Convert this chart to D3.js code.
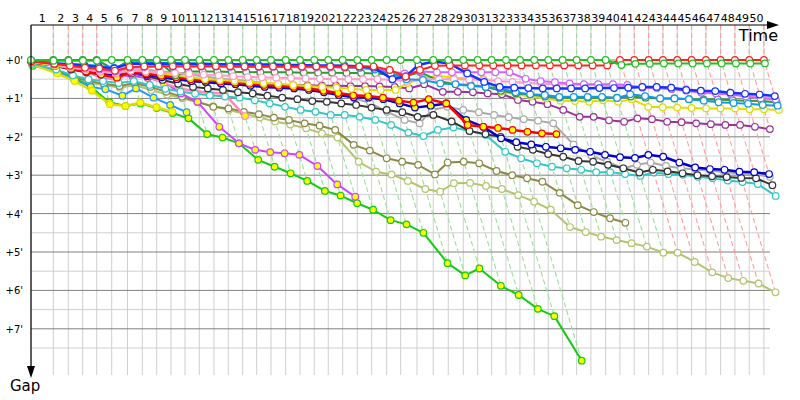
<!DOCTYPE html>
<html>
<head>
<meta charset="utf-8">
<script src="https://cdn.jsdelivr.net/npm/d3@7"></script>
<style>
  body { margin: 0; background: #fff; }
  svg { display: block; font-family: 'DejaVu Sans', sans-serif; }
</style>
</head>
<body>
<script>
const width = 800;
const height = 400;

// leader lap times in seconds, laps 1..50
const leaderLapTimes = [
  116.3, 78.3, 75.1, 73.0, 78.3, 82.4, 77.2, 75.1, 74.6, 73.0,
  74.6, 76.7, 74.6, 75.1, 73.0, 74.6, 76.7, 74.6, 74.6, 73.0,
  75.1, 76.2, 75.1, 78.3, 73.0, 85.0, 85.0, 78.3, 78.3, 75.1,
  73.0, 74.6, 73.0, 74.6, 73.0, 75.1, 73.0, 74.6, 76.7, 74.6,
  74.6, 75.1, 74.6, 74.6, 75.1, 74.6, 76.7, 74.6, 74.6, 76.7
];

// gap to the leader in minutes, index = lap (0 = start)
const gapGreen = [0, 0.02, 0.02, 0.02, 0.02, 0, 0, 0, 0, 0,
  0, 0, 0, 0, 0, 0, 0, 0, 0, 0, 0, 0, 0, 0, 0, 0, 0, 0, 0, 0,
  0, 0, 0, 0, 0, 0, 0, 0, 0, 0,
  0.13, 0.1, 0.1, 0.09, 0.09, 0.09, 0.09, 0.09, 0.09, 0.09, 0.09];
const gapRed = [0.03, 0.1, 0.15, 0.2, 0.22, 0.28, 0.18, 0.17, 0.16, 0.16,
  0.16, 0.16, 0.16, 0.16, 0.17, 0.17, 0.17, 0.17, 0.17, 0.17,
  0.17, 0.18, 0.17, 0.17, 0.26, 0.43, 0.26, 0.15, 0.14, 0.14,
  0.14, 0.14, 0.14, 0.14, 0.14, 0.14, 0.14, 0.14, 0.14, 0.14,
  0, 0, 0, 0, 0, 0, 0, 0, 0, 0, 0];
const gapRedThick = [0.05, 0.15, 0.22, 0.3, 0.38, 0.46, 0.3, 0.35, 0.41, 0.45,
  0.5, 0.53, 0.56, 0.59, 0.62, 0.65, 0.67, 0.7, 0.74, 0.8,
  0.86, 0.92, 0.94, 0.98, 1.06, 1.11, 1.02, 1.13, 1.69, 1.74,
  1.77, 1.82, 1.87, 1.91, 1.93];
const gapNavy = [0.05, 0.12, 0.2, 0.28, 0.35, 0.42, 0.3, 0.38, 0.45, 0.5,
  0.55, 0.57, 0.61, 0.63, 0.67, 0.7, 0.72, 0.74, 0.78, 0.84,
  0.91, 0.97, 0.98, 1.02, 1.13, 1.24, 1.19, 1.13, 1.56, 1.74,
  2.04, 2.14, 2.2, 2.26, 2.3, 2.34, 2.39, 2.47, 2.53, 2.55,
  2.47, 2.52, 2.67, 2.8, 2.84, 2.86, 2.91, 2.92, 2.97];
const gapBlue = [0.02, 0.1, 0.12, 0.15, 0.18, 0.22, 0.1, 0.1, 0.1, 0.1,
  0.1, 0.1, 0.11, 0.11, 0.12, 0.12, 0.12, 0.13, 0.13, 0.14,
  0.14, 0.15, 0.16, 0.2, 0.5, 0.43, 0.13, 0.04, 0.09, 0.35,
  0.57, 0.7, 0.72, 0.73, 0.74, 0.74, 0.74, 0.74, 0.73, 0.73,
  0.72, 0.7, 0.7, 0.72, 0.78, 0.8, 0.81, 0.85, 0.88, 0.9, 0.94];
const gapBlack = [0.05, 0.15, 0.25, 0.32, 0.38, 0.42, 0.35, 0.42, 0.52, 0.62,
  0.7, 0.74, 0.78, 0.84, 0.87, 0.93, 0.98, 1.02, 1.07, 1.09,
  1.13, 1.17, 1.24, 1.3, 1.36, 1.48, 1.43, 1.6, 1.85, 1.93,
  2.0, 2.26, 2.34, 2.45, 2.52, 2.63, 2.65, 2.73, 2.82, 2.93,
  2.86, 2.9, 2.95, 3.0, 3.03, 3.05, 3.07, 3.08, 3.26];
const gapGray = [0.05, 0.15, 0.2, 0.25, 0.3, 0.32, 0.25, 0.25, 0.29, 0.33,
  0.38, 0.43, 0.48, 0.52, 0.55, 0.59, 0.63, 0.68, 0.72, 0.78,
  0.87, 1.0, 1.12, 1.35, 1.56, 1.65, 1.3, 1.22, 1.3, 1.36,
  1.43, 1.49, 1.54, 1.58, 1.65, 2.2, 2.49, 2.65, 2.82, 2.73,
  2.67, 2.76, 2.82, 2.85, 2.88, 2.93, 2.95, 2.98, 3.04];
const gapCyan = [0.1, 0.25, 0.4, 0.5, 0.55, 0.6, 0.55, 0.65, 0.75, 0.82,
  0.88, 0.92, 0.95, 0.98, 1.05, 1.13, 1.22, 1.3, 1.35, 1.43,
  1.43, 1.48, 1.56, 1.69, 1.89, 1.98, 1.82, 1.76, 1.85, 1.95,
  2.39, 2.56, 2.69, 2.78, 2.82, 2.86, 2.92, 2.92, 2.97, 3.02,
  2.93, 2.97, 2.99, 3.04, 3.08, 3.14, 3.18, 3.23, 3.54];
const gapPurple = [0.05, 0.15, 0.22, 0.3, 0.35, 0.4, 0.35, 0.4, 0.45, 0.5,
  0.55, 0.58, 0.6, 0.62, 0.64, 0.65, 0.65, 0.66, 0.66, 0.67,
  0.67, 0.68, 0.68, 0.69, 0.7, 0.74, 0.63, 0.83, 0.83, 0.84,
  0.87, 0.89, 1.04, 1.09, 1.15, 1.3, 1.48, 1.48, 1.57, 1.61,
  1.52, 1.54, 1.61, 1.62, 1.65, 1.67, 1.69, 1.69, 1.74, 1.8];
const gapViolet = [0.03, 0.1, 0.15, 0.2, 0.25, 0.3, 0.2, 0.18, 0.17, 0.17,
  0.17, 0.17, 0.17, 0.18, 0.18, 0.18, 0.18, 0.18, 0.19, 0.19,
  0.19, 0.2, 0.2, 0.22, 0.3, 0.35, 0.3, 0.32, 0.32, 0.32,
  0.32, 0.32, 0.32, 0.49, 0.55, 0.58, 0.61, 0.63, 0.63, 0.63,
  0.65, 0.72, 0.73, 0.76, 0.8, 0.85, 0.87, 0.9, 0.95, 1.0, 1.03];
const gapPink = [0.04, 0.12, 0.18, 0.24, 0.3, 0.35, 0.28, 0.3, 0.32, 0.34,
  0.36, 0.38, 0.4, 0.42, 0.44, 0.45, 0.46, 0.47, 0.48, 0.49,
  0.5, 0.5, 0.5, 0.5, 0.52, 0.55, 0.5, 0.5, 0.5, 0.51,
  0.52, 0.55, 0.57, 0.6, 0.62, 0.63, 0.64, 0.65, 0.66, 0.67,
  0.68, 0.7, 0.7, 0.72, 0.75, 0.8, 0.84, 0.88, 0.92, 0.96, 1.0];
const gapYellow = [0.05, 0.15, 0.2, 0.25, 0.3, 0.35, 0.25, 0.3, 0.35, 0.4,
  0.45, 0.5, 0.52, 0.55, 0.58, 0.6, 0.62, 0.65, 0.68, 0.7,
  0.72, 0.75, 0.78, 0.78, 0.78, 0.6, 0.48, 0.41, 0.46, 0.48,
  0.49, 0.83, 0.9, 0.95, 1.0, 1.06, 1.07, 1.09, 1.05, 1.09,
  1.02, 1.22, 1.23, 1.24, 1.25, 1.26, 1.26, 1.26, 1.28, 1.28, 1.3];
const gapSky = [0.02, 0.08, 0.1, 0.12, 0.15, 0.2, 0.08, 0.08, 0.08, 0.08,
  0.09, 0.1, 0.1, 0.11, 0.12, 0.12, 0.13, 0.13, 0.14, 0.15,
  0.16, 0.18, 0.2, 0.25, 0.35, 0.5, 0.52, 0.61, 0.63, 0.68,
  0.7, 0.74, 0.84, 0.89, 0.91, 0.96, 0.96, 0.96, 0.96, 0.99,
  0.89, 0.94, 1.0, 1.0, 1.02, 1.06, 1.1, 1.12, 1.14, 1.17, 1.19];
const gapDarkGreen = [0.02, 0, 0, 0, 0, 0.25, 0.02, 0.02, 0.02, 0.4,
  0.3, 0.3, 0.3, 0.31, 0.31, 0.32, 0.32, 0.32, 0.33, 0.33,
  0.33, 0.34, 0.34, 0.35, 0.38, 0.42, 0.32, 0.55, 0.63, 0.65,
  0.7, 0.8, 0.87, 0.9, 0.95, 0.98, 0.98, 0.98, 0.98, 0.98,
  0.95, 0.98, 1.0, 1.0, 1.02, 1.03, 1.03, 1.05, 1.06, 1.07, 1.1];
const gapOlive = [0.1, 0.3, 0.45, 0.55, 0.62, 0.68, 0.6, 0.7, 0.83, 0.96,
  1.09, 1.22, 1.26, 1.35, 1.41, 1.5, 1.56, 1.65, 1.71, 1.82,
  2.21, 2.36, 2.56, 2.65, 2.73, 2.98, 2.67, 2.65, 2.69, 2.89,
  3.0, 3.08, 3.17, 3.46, 3.78, 3.96, 4.12, 4.24];
const gapLightOlive = [0.12, 0.3, 0.5, 0.6, 0.65, 0.72, 0.65, 0.78, 0.9, 1.0,
  1.1, 1.2, 1.3, 1.4, 1.5, 1.6, 1.68, 1.78, 1.91, 2.02,
  2.65, 2.91, 2.98, 3.15, 3.36, 3.43, 3.21, 3.2, 3.28, 3.36,
  3.52, 3.69, 3.9, 4.35, 4.48, 4.6, 4.69, 4.77, 4.86, 5.02,
  5.02, 5.26, 5.53, 5.68, 5.75, 5.82, 6.05];
const gapBrightGreen = [0.15, 0.28, 0.45, 0.7, 1.1, 1.2, 1.13, 1.25, 1.38, 1.52,
  1.93, 2.02, 2.17, 2.6, 2.78, 2.95, 3.15, 3.41, 3.53, 3.73,
  3.9, 4.17, 4.28, 4.5, 5.29, 5.61, 5.43, 5.88, 6.12, 6.48,
  6.67, 7.83];
const gapVioletY = [0.05, 0.15, 0.25, 0.3, 0.35, 0.4, 0.42, 0.47, 0.56, 0.87,
  1.09, 1.74, 2.17, 2.34, 2.4, 2.43, 2.47, 2.76, 3.24, 3.56];
const gapPinkY = [0.05, 0.12, 0.22, 0.33, 0.45, 0.52, 0.3, 0.41, 0.61, 0.74,
  0.81, 0.85, 0.87, 1.46];
const gapSkyY = [0.1, 0.3, 0.5, 0.7, 0.76, 0.93, 0.74, 0.98, 1.17, 1.36];
const gapYellowY = [0.12, 0.35, 0.55, 0.8, 1.15, 1.2, 1.11, 1.23, 1.35];

const gapTicks = [0, 1, 2, 3, 4, 5, 6, 7];

// drawing order, bottom first; yellowUntil = last lap drawn with a yellow marker
const series = [
  { gaps: gapLightOlive, color: '#b3c46e', w: 2, yellowUntil: -1 },
  { gaps: gapOlive, color: '#8a8a48', w: 2, yellowUntil: -1 },
  { gaps: gapBrightGreen, color: '#11cc11', w: 2, yellowUntil: 99 },
  { gaps: gapVioletY, color: '#cc44ff', w: 2, yellowUntil: 99 },
  { gaps: gapPinkY, color: '#ff88bb', w: 2.5, yellowUntil: 99 },
  { gaps: gapSkyY, color: '#2299ff', w: 2, yellowUntil: 99 },
  { gaps: gapYellowY, color: '#dddd00', w: 2.5, yellowUntil: 99 },
  { gaps: gapCyan, color: '#33c6c6', w: 2, yellowUntil: -1 },
  { gaps: gapGray, color: '#aaaaaa', w: 2, yellowUntil: -1 },
  { gaps: gapBlack, color: '#333333', w: 2, yellowUntil: -1 },
  { gaps: gapPurple, color: '#993399', w: 2, yellowUntil: -1 },
  { gaps: gapNavy, color: '#0000cc', w: 2.5, yellowUntil: 29 },
  { gaps: gapRedThick, color: '#ff0000', w: 2.5, yellowUntil: 99 },
  { gaps: gapYellow, color: '#dddd00', w: 2, yellowUntil: -1 },
  { gaps: gapDarkGreen, color: '#339933', w: 2, yellowUntil: 9 },
  { gaps: gapPink, color: '#ff99cc', w: 2, yellowUntil: -1 },
  { gaps: gapViolet, color: '#cc66ff', w: 2, yellowUntil: -1 },
  { gaps: gapSky, color: '#1199ee', w: 2, yellowUntil: -1 },
  { gaps: gapBlue, color: '#1133ff', w: 2.5, yellowUntil: -1 },
  { gaps: gapRed, color: '#ff2222', w: 2, yellowUntil: -1 },
  { gaps: gapGreen, color: '#22c022', w: 2, yellowUntil: -1 }
];

const leaderTime = [0, ...d3.cumsum(leaderLapTimes)];
const laps = d3.range(1, leaderTime.length);

const plotTop = 25, plotBottom = 377, plotLeft = 31, plotRight = 770;
const x = d3.scaleLinear().domain([0, 3824]).range([31, 764]);
const y = d3.scaleLinear().domain([0, 8]).range([60, 367.2]);

const px = (k, g) => x(leaderTime[k] + g * 60);

const svg = d3.select('body').append('svg')
  .attr('width', width)
  .attr('height', height);

// grid
const grid = svg.append('g');
grid.selectAll('.vgrid')
  .data(leaderTime)
  .enter().append('line')
    .attr('x1', d => x(d)).attr('x2', d => x(d))
    .attr('y1', plotTop).attr('y2', plotBottom - 2)
    .attr('stroke', '#cfcfcf').attr('stroke-width', 1);

grid.selectAll('.half')
  .data(d3.range(0.5, 8, 1))
  .enter().append('line')
    .attr('x1', plotLeft).attr('x2', plotRight)
    .attr('y1', d => y(d)).attr('y2', d => y(d))
    .attr('stroke', '#cfcfcf').attr('stroke-width', 1);

grid.selectAll('.full')
  .data(gapTicks)
  .enter().append('line')
    .attr('x1', plotLeft).attr('x2', plotRight)
    .attr('y1', d => y(d)).attr('y2', d => y(d))
    .attr('stroke', '#808080').attr('stroke-width', 1);

// lap lines: vertical above the leader, then through every car on that lap
const lapColor = k => (k <= 4 || k >= 40) ? '#ff9c9c' : '#9ade9a';
svg.append('g').selectAll('path')
  .data(laps)
  .enter().append('path')
    .attr('fill', 'none')
    .attr('stroke', lapColor)
    .attr('stroke-width', 1.1)
    .attr('stroke-dasharray', '5,3')
    .attr('d', k => {
      const gmax = d3.max(series, s => s.gaps.length > k ? s.gaps[k] : 0);
      return `M${x(leaderTime[k])},${plotTop}L${x(leaderTime[k])},${y(0)}L${px(k, gmax)},${y(gmax)}`;
    });

// series
const line = d3.line()
  .x((g, k) => px(k, g))
  .y(g => y(g));

series.forEach(s => {
  const g = svg.append('g');
  g.append('path')
    .attr('d', line(s.gaps))
    .attr('fill', 'none')
    .attr('stroke', s.color)
    .attr('stroke-width', s.w)
    .attr('stroke-linejoin', 'round');
  g.selectAll('circle')
    .data(s.gaps)
    .enter().append('circle')
      .attr('cx', (d, k) => px(k, d))
      .attr('cy', d => y(d))
      .attr('r', 3.3)
      .attr('fill', (d, k) => k <= s.yellowUntil ? '#ffff00' : '#ffffff')
      .attr('stroke', s.color)
      .attr('stroke-width', 1.2);
});

// axes
svg.append('line')
  .attr('x1', plotLeft).attr('x2', 772).attr('y1', plotTop).attr('y2', plotTop)
  .attr('stroke', '#000').attr('stroke-width', 1.2);
svg.append('path')
  .attr('d', `M779,${plotTop}L767,${plotTop - 4}L767,${plotTop + 4}Z`)
  .attr('fill', '#000');
svg.append('line')
  .attr('x1', plotLeft).attr('x2', plotLeft).attr('y1', plotTop).attr('y2', 370)
  .attr('stroke', '#000').attr('stroke-width', 1.2);
svg.append('path')
  .attr('d', `M${plotLeft},378L${plotLeft - 4},366L${plotLeft + 4},366Z`)
  .attr('fill', '#000');

svg.append('g').selectAll('text')
  .data(laps)
  .enter().append('text')
    .attr('x', k => x((leaderTime[k - 1] + leaderTime[k]) / 2))
    .attr('y', 22)
    .attr('text-anchor', 'middle')
    .attr('font-size', 11)
    .attr('fill', '#000')
    .text(k => k);

svg.append('g').selectAll('text')
  .data(gapTicks)
  .enter().append('text')
    .attr('x', 23)
    .attr('y', d => y(d) + 4)
    .attr('text-anchor', 'end')
    .attr('font-size', 10)
    .attr('fill', '#000')
    .text(d => `+${d}'`);

svg.append('text')
  .attr('x', 778).attr('y', 41)
  .attr('text-anchor', 'end')
  .attr('font-size', 16)
  .text('Time');

svg.append('text')
  .attr('x', 10).attr('y', 391)
  .attr('font-size', 15)
  .text('Gap');
</script>
</body>
</html>
